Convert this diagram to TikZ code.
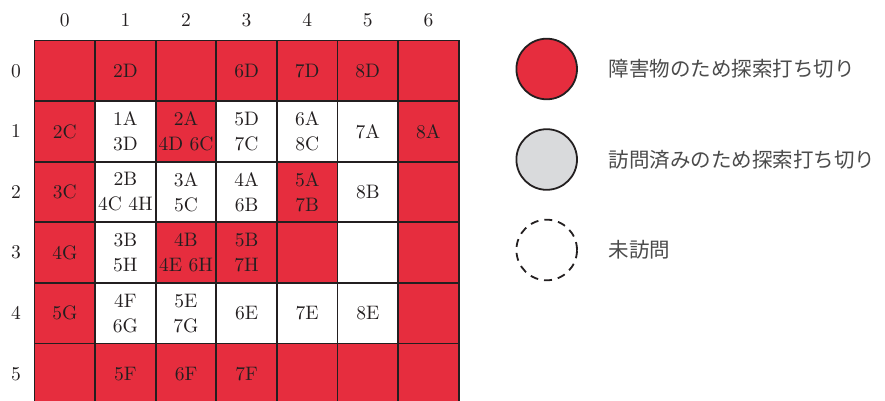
\documentclass[tikz,border=0pt]{standalone}
\usepackage{fontspec}
\setmainfont{lmroman10-regular}[Extension=.otf]
\newfontfamily\jp{Noto Sans CJK JP}
\definecolor{obst}{RGB}{230,45,62}
\definecolor{visited}{RGB}{217,218,220}
\definecolor{ink}{RGB}{35,31,32}
\definecolor{jptext}{RGB}{75,75,75}
\begin{document}
\begin{tikzpicture}[x=1pt,y=-1pt,
  cell/.style={draw=ink, line width=1.8pt, minimum width=60.6pt, minimum height=60.6pt,
    inner sep=0pt, align=center, text=ink, font=\fontsize{19.5}{25}\selectfont},
  free/.style={cell, fill=white},
  obs/.style={cell, fill=obst},
  idx/.style={text=ink, font=\fontsize{19.5}{24}\selectfont},
  legcirc/.style={circle, line width=1.8pt, minimum size=60.6pt, inner sep=0pt},
  legtext/.style={anchor=west, text=jptext, font=\jp\fontsize{20.5}{24}\selectfont, inner sep=0pt}]
\useasboundingbox (0,0) rectangle (885,401);
% column indices
\node[idx] (c0) at (64.8,20) {0};
\node[idx] (c1) at (125.4,20) {1};
\node[idx] (c2) at (186.0,20) {2};
\node[idx] (c3) at (246.6,20) {3};
\node[idx] (c4) at (307.2,20) {4};
\node[idx] (c5) at (367.8,20) {5};
\node[idx] (c6) at (428.4,20) {6};
% row indices
\node[idx] (r0) at (16,70.8) {0};
\node[idx] (r1) at (16,131.4) {1};
\node[idx] (r2) at (16,192.0) {2};
\node[idx] (r3) at (16,252.6) {3};
\node[idx] (r4) at (16,313.2) {4};
\node[idx] (r5) at (16,373.8) {5};
% row 0
\node[obs] (m00) at (64.8,70.8) {};
\node[obs] (m01) at (125.4,70.8) {2D};
\node[obs] (m02) at (186.0,70.8) {};
\node[obs] (m03) at (246.6,70.8) {6D};
\node[obs] (m04) at (307.2,70.8) {7D};
\node[obs] (m05) at (367.8,70.8) {8D};
\node[obs] (m06) at (428.4,70.8) {};
% row 1
\node[obs]  (m10) at (64.8,131.4) {2C};
\node[free] (m11) at (125.4,131.4) {1A\\3D};
\node[obs]  (m12) at (186.0,131.4) {2A\\4D 6C};
\node[free] (m13) at (246.6,131.4) {5D\\7C};
\node[free] (m14) at (307.2,131.4) {6A\\8C};
\node[free] (m15) at (367.8,131.4) {7A};
\node[obs]  (m16) at (428.4,131.4) {8A};
% row 2
\node[obs]  (m20) at (64.8,192.0) {3C};
\node[free] (m21) at (125.4,192.0) {2B\\4C 4H};
\node[free] (m22) at (186.0,192.0) {3A\\5C};
\node[free] (m23) at (246.6,192.0) {4A\\6B};
\node[obs]  (m24) at (307.2,192.0) {5A\\7B};
\node[free] (m25) at (367.8,192.0) {8B};
\node[obs]  (m26) at (428.4,192.0) {};
% row 3
\node[obs]  (m30) at (64.8,252.6) {4G};
\node[free] (m31) at (125.4,252.6) {3B\\5H};
\node[obs]  (m32) at (186.0,252.6) {4B\\4E 6H};
\node[obs]  (m33) at (246.6,252.6) {5B\\7H};
\node[obs]  (m34) at (307.2,252.6) {};
\node[free] (m35) at (367.8,252.6) {};
\node[obs]  (m36) at (428.4,252.6) {};
% row 4
\node[obs]  (m40) at (64.8,313.2) {5G};
\node[free] (m41) at (125.4,313.2) {4F\\6G};
\node[free] (m42) at (186.0,313.2) {5E\\7G};
\node[free] (m43) at (246.6,313.2) {6E};
\node[free] (m44) at (307.2,313.2) {7E};
\node[free] (m45) at (367.8,313.2) {8E};
\node[obs]  (m46) at (428.4,313.2) {};
% row 5
\node[obs] (m50) at (64.8,373.8) {};
\node[obs] (m51) at (125.4,373.8) {5F};
\node[obs] (m52) at (186.0,373.8) {6F};
\node[obs] (m53) at (246.6,373.8) {7F};
\node[obs] (m54) at (307.2,373.8) {};
\node[obs] (m55) at (367.8,373.8) {};
\node[obs] (m56) at (428.4,373.8) {};
% legend
\node[legcirc, draw=ink, fill=obst] (l1) at (546.7,69) {};
\node[legcirc, draw=ink, fill=visited] (l2) at (546.7,159.5) {};
\node[legcirc, draw=ink, dashed, dash pattern=on 8pt off 6pt] (l3) at (546.7,250) {};
\node[legtext] (t1) at (608.3,69) {障害物のため探索打ち切り};
\node[legtext] (t2) at (608.3,159.5) {訪問済みのため探索打ち切り};
\node[legtext] (t3) at (608.3,250) {未訪問};
\end{tikzpicture}
\end{document}
